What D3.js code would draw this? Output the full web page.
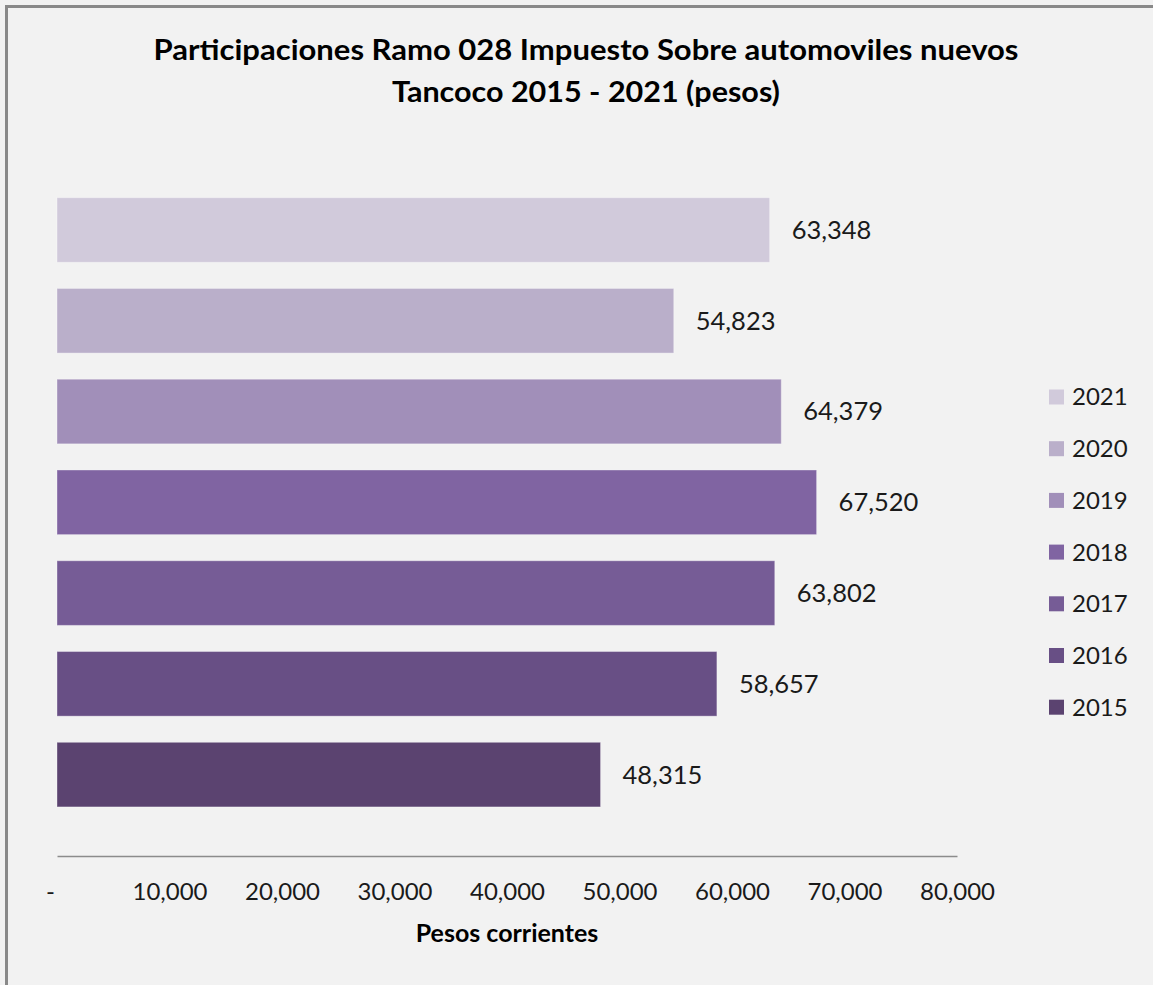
<!DOCTYPE html>
<html>
<head>
<meta charset="utf-8">
<script src="https://cdn.jsdelivr.net/npm/d3@7"></script>
<style>
  html, body { margin: 0; padding: 0; background: #F2F2F2; }
  svg { display: block; }
  text { font-family: Lato, "Open Sans", sans-serif; }
</style>
</head>
<body>
<svg id="chart" width="1153" height="985"></svg>
<script>
// ---- data ----
const titleLines = ["Participaciones Ramo 028 Impuesto Sobre automoviles nuevos", "Tancoco 2015 - 2021 (pesos)"];
const years = ["2021", "2020", "2019", "2018", "2017", "2016", "2015"];
const values = [63348, 54823, 64379, 67520, 63802, 58657, 48315];
const palette = ["#D1CADB", "#BAAFCA", "#A18FB9", "#8064A2", "#765C96", "#684F85", "#5B4370"];
const xTicks = [0, 10000, 20000, 30000, 40000, 50000, 60000, 70000, 80000];
const xTitle = "Pesos corrientes";

const W = 1153, H = 985;
const svg = d3.select("#chart");

// background + frame (only top/left visible in the reference)
svg.append("rect").attr("x", 0).attr("y", 0).attr("width", W).attr("height", H).attr("fill", "#F2F2F2");
svg.append("rect").attr("x", 6.5).attr("y", 6.5).attr("width", W + 20).attr("height", H + 20)
  .attr("fill", "none").attr("stroke", "#898989").attr("stroke-width", 3);

// title
const titleCx = 586;
const titleBase = [60, 102];
const titleLen = [865, 388];
titleLines.forEach((t, i) => {
  svg.append("text")
    .attr("x", titleCx).attr("y", titleBase[i])
    .attr("text-anchor", "middle")
    .attr("font-size", 28).attr("font-weight", "bold").attr("fill", "#000")
    .attr("textLength", titleLen[i]).attr("lengthAdjust", "spacingAndGlyphs")
    .text(t);
});

// scales
const x = d3.scaleLinear().domain([0, 80000]).range([57, 957]);
const y = d3.scaleBand().domain(years).range([184.6, 820.0]).paddingInner(0.288).paddingOuter(0.144);
const color = d3.scaleOrdinal().domain(years).range(palette);

const data = years.map((yr, i) => ({ year: yr, value: values[i] }));

// bars
svg.append("g").selectAll("rect").data(data).join("rect")
  .attr("x", x(0))
  .attr("y", d => y(d.year))
  .attr("width", d => x(d.value) - x(0))
  .attr("height", y.bandwidth())
  .attr("fill", d => color(d.year))
  .attr("stroke", "rgba(255,255,255,0.35)")
  .attr("stroke-width", 1);

// data labels
const fmt = d3.format(",");
svg.append("g").selectAll("text").data(data).join("text")
  .attr("x", d => x(d.value) + 22)
  .attr("y", d => y(d.year) + y.bandwidth() / 2)
  .attr("dy", "0.35em")
  .attr("font-size", 25.5).attr("fill", "#1a1a1a")
  .text(d => fmt(d.value));

// x axis
const axisY = 856;
const xAxis = d3.axisBottom(x).tickValues(xTicks).tickSize(0).tickPadding(0)
  .tickFormat(d => d === 0 ? "-" : fmt(d));
const gx = svg.append("g").attr("transform", `translate(0,${axisY})`).call(xAxis);
gx.select(".domain").attr("stroke", "#8C8C8C").attr("stroke-width", 1.5);
gx.selectAll(".tick text")
  .attr("font-family", "Lato, 'Open Sans', sans-serif")
  .attr("font-size", 24).attr("fill", "#1a1a1a")
  .attr("y", 44).attr("dy", "0")
  .attr("dx", d => d === 0 ? -7 : 0);

// axis title
svg.append("text")
  .attr("x", (x.range()[0] + x.range()[1]) / 2).attr("y", 942)
  .attr("text-anchor", "middle")
  .attr("font-size", 25).attr("font-weight", "bold").attr("fill", "#000")
  .text(xTitle);

// legend
const legY0 = 397, legStep = 51.7;
const leg = svg.append("g").selectAll("g").data(years).join("g")
  .attr("transform", (d, i) => `translate(1049,${legY0 + i * legStep})`);
leg.append("rect").attr("x", 0).attr("y", -7.5).attr("width", 15).attr("height", 15)
  .attr("fill", d => color(d));
leg.append("text").attr("x", 23).attr("y", 0).attr("dy", "0.35em")
  .attr("font-size", 24).attr("fill", "#1a1a1a").text(d => d);
</script>
</body>
</html>
